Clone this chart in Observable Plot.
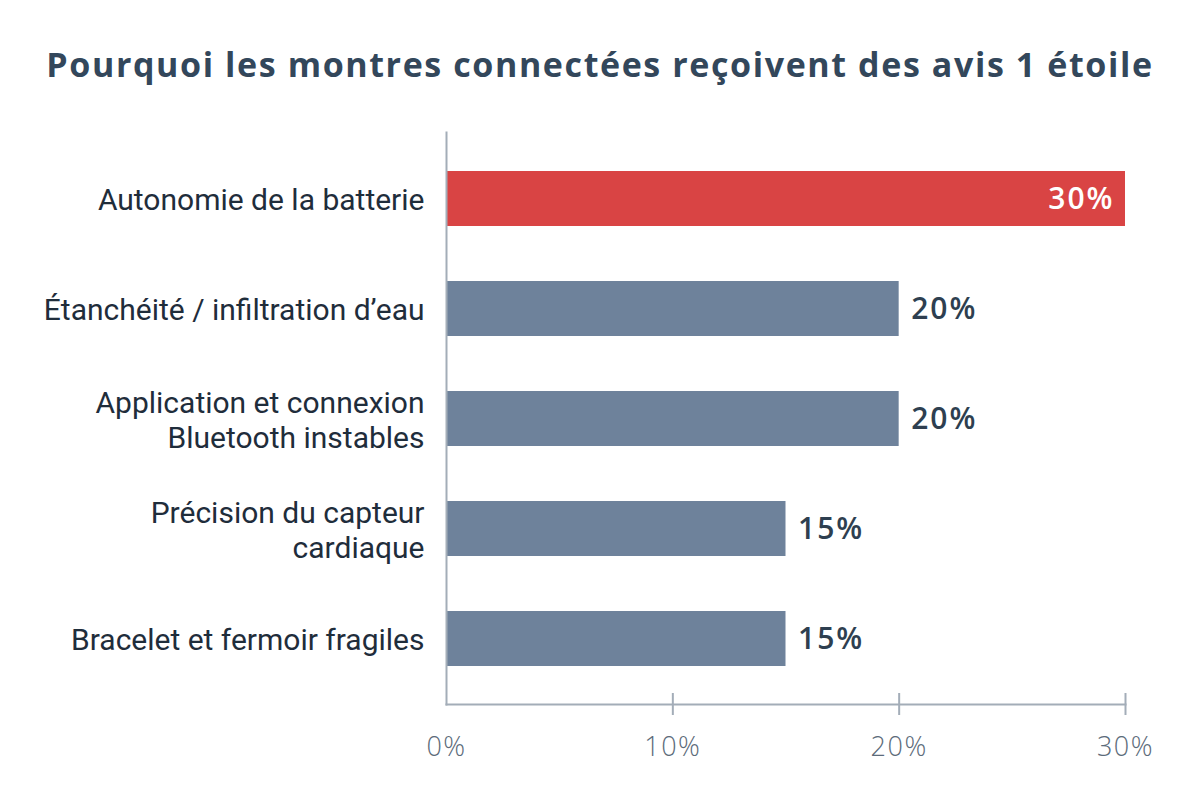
<!DOCTYPE html>
<html>
<head>
<meta charset="utf-8">
<script src="https://cdn.jsdelivr.net/npm/d3@7"></script>
<script src="https://cdn.jsdelivr.net/npm/@observablehq/plot@0.6"></script>
<style>
  html, body { margin: 0; padding: 0; background: #ffffff; }
  #title {
    height: 88px; padding-top: 20px;
    display: flex; align-items: center; justify-content: center;
    font-family: "Open Sans", sans-serif; font-weight: 700; font-size: 34px;
    color: #33475b; letter-spacing: 1.6px; white-space: nowrap;
  }
  #chart svg { display: block; }
  #chart g[aria-label="text"] text { letter-spacing: 2px; }
  #chart g[aria-label="x-axis tick label"] text { letter-spacing: 1.5px; }
</style>
</head>
<body>
<div id="title">Pourquoi les montres connectées reçoivent des avis 1 étoile</div>
<div id="chart"></div>
<script>
const categories = [
  "Autonomie de la batterie",
  "Étanchéité / infiltration d’eau",
  "Application et connexion\nBluetooth instables",
  "Précision du capteur\ncardiaque",
  "Bracelet et fermoir fragiles"
];
const values = [30, 20, 20, 15, 15];
const groups = ["highlight", "normal", "normal", "normal", "normal"];
const tickValues = [0, 10, 20, 30];
const crossTicks = [10, 20, 30];

const data = categories.map((c, i) => ({category: c, value: values[i], group: groups[i]}));

const axisColor = "#a3adb8";
const textDark = "#2e3f50";

const plot = Plot.plot({
  width: 1200,
  height: 690,
  marginLeft: 446,
  marginRight: 75,
  marginTop: 24,
  marginBottom: 94,
  style: {fontFamily: "Roboto, sans-serif", background: "#ffffff"},
  x: {domain: [0, 30], axis: null},
  y: {domain: categories, paddingInner: 0.5, paddingOuter: 0.345, axis: null},
  color: {domain: ["highlight", "normal"], range: ["#d94444", "#6e829b"]},
  marks: [
    Plot.barX(data, {x: "value", y: "category", fill: "group"}),
    Plot.text(data.filter(d => d.group === "highlight"), {
      x: "value", y: "category", text: d => d.value + "%",
      dx: -11, textAnchor: "end", fill: "#ffffff",
      fontSize: 30, fontWeight: 600, fontFamily: "Open Sans, sans-serif"
    }),
    Plot.text(data.filter(d => d.group !== "highlight"), {
      x: "value", y: "category", text: d => d.value + "%",
      dx: 12, textAnchor: "start", fill: textDark,
      fontSize: 30, fontWeight: 600, fontFamily: "Open Sans, sans-serif"
    }),
    Plot.frame({anchor: "left", stroke: axisColor, strokeWidth: 2}),
    Plot.frame({anchor: "bottom", stroke: axisColor, strokeWidth: 2}),
    Plot.axisX({ticks: crossTicks, tickSize: 22, dy: -11, tickFormat: () => "", stroke: axisColor, strokeWidth: 2, label: null}),
    Plot.axisX({ticks: tickValues, tickSize: 0, tickPadding: 32, tickFormat: d => d + "%", fontSize: 27, fill: "#5c6b7a", fontWeight: 300, fontFamily: "Open Sans, sans-serif", label: null}),
    Plot.axisY({tickSize: 0, tickPadding: 22, fontSize: 30, fill: "#1f2d3b", lineHeight: 1.17, label: null})
  ]
});
document.getElementById("chart").appendChild(plot);
</script>
</body>
</html>
